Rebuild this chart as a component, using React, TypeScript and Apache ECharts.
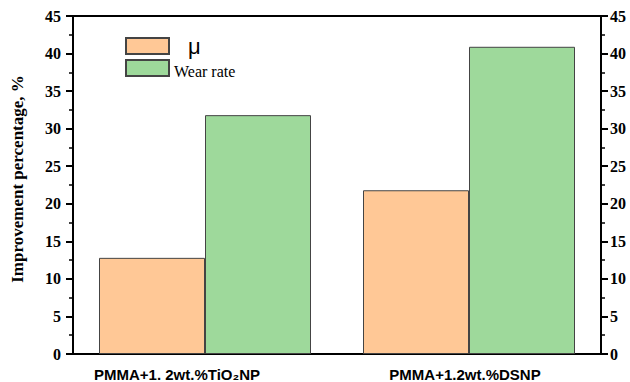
import React, { useEffect, useRef } from "react";
import * as echarts from "echarts";

const categories = ["PMMA+1. 2wt.%TiO₂NP", "PMMA+1.2wt.%DSNP"];
const muValues = [12.8, 21.8];
const wearValues = [31.8, 40.9];
const seriesNames = ["μ", "Wear rate"];
const yTicks = { min: 0, max: 45, interval: 5 };

export default function App() {
  const ref = useRef<HTMLDivElement>(null);
  useEffect(() => {
    if (!ref.current) return;
    const chart = echarts.init(ref.current, null, { renderer: "svg" });
    const serif = "'Liberation Serif', 'Times New Roman', serif";
    const sans = "'Liberation Sans', Arial, sans-serif";
    const yAxisBase = {
      type: "value",
      min: yTicks.min,
      max: yTicks.max,
      interval: yTicks.interval,
      splitLine: { show: false },
      axisLine: { show: true, lineStyle: { color: "#000", width: 2 } },
      axisTick: { show: true, inside: false, length: 7, lineStyle: { color: "#000", width: 2 } },
      minorTick: { show: true, splitNumber: 2, length: 4, lineStyle: { color: "#000", width: 1.5 } },
    };
    chart.setOption({
      animation: false,
      backgroundColor: "#fff",
      grid: {
        left: 73,
        right: 29,
        top: 16,
        bottom: 28,
        show: true,
        borderColor: "#000",
        borderWidth: 2,
      },
      legend: {
        orient: "vertical",
        left: 120,
        top: 30,
        itemWidth: 43,
        itemHeight: 16,
        itemGap: 0,
        icon: "rect",
        data: seriesNames,
        formatter: (name: string) => (name === "μ" ? "{m|μ}" : "{w|" + name + "}"),
        textStyle: {
          rich: {
            m: { fontFamily: sans, fontSize: 22, lineHeight: 16, padding: [0, 0, 0, 14], color: "#000" },
            w: { fontFamily: serif, fontSize: 16, lineHeight: 16, color: "#000", padding: [6, 0, 0, 0] },
          },
        },
      },
      xAxis: {
        type: "category",
        data: categories,
        axisLine: { show: true, lineStyle: { color: "#000", width: 2 } },
        axisTick: { show: false },
        axisLabel: {
          margin: 13,
          formatter: (v: string, i: number) => (i === 0 ? "{a|" + v + "}" : "{b|" + v + "}"),
          rich: {
            a: { fontFamily: sans, fontWeight: "bold", fontSize: 15, color: "#000", padding: [0, 56, 0, 0] },
            b: { fontFamily: sans, fontWeight: "bold", fontSize: 15, color: "#000", padding: [0, 8, 0, 0] },
          },
        },
      },
      yAxis: [
        {
          ...yAxisBase,
          position: "left",
          name: "Improvement percentage, %",
          nameLocation: "middle",
          nameGap: 47,
          nameTextStyle: { fontFamily: serif, fontWeight: "bold", fontSize: 17, color: "#000", padding: [0, 0, 0, 12] },
          axisLabel: { margin: 12, fontFamily: serif, fontWeight: "bold", fontSize: 16, color: "#000" },
        },
        {
          ...yAxisBase,
          position: "right",
          axisLabel: { margin: 9, fontFamily: serif, fontWeight: "bold", fontSize: 16, color: "#000" },
        },
      ],
      series: [
        {
          name: seriesNames[0],
          type: "bar",
          data: muValues,
          barWidth: 106,
          barGap: "0%",
          itemStyle: { color: "#FFC896", borderColor: "#444", borderWidth: 1 },
        },
        {
          name: seriesNames[1],
          type: "bar",
          data: wearValues,
          barWidth: 106,
          barGap: "0%",
          itemStyle: { color: "#9ED99B", borderColor: "#444", borderWidth: 1 },
        },
      ],
    });
    return () => chart.dispose();
  }, []);
  return <div ref={ref} style={{ position: "fixed", left: 0, top: 0, width: 630, height: 382 }} />;
}
